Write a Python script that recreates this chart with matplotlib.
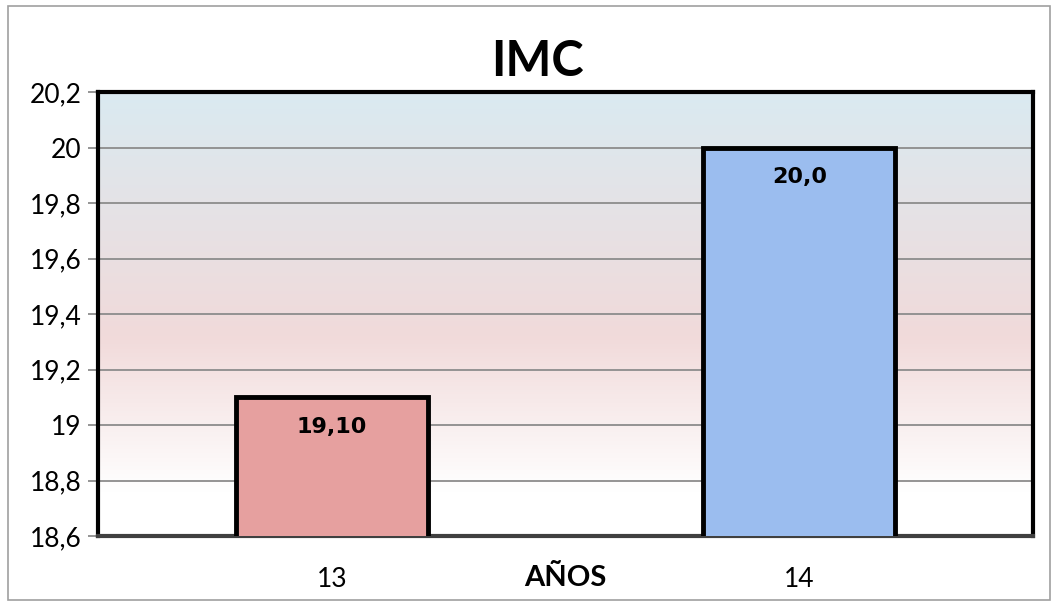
import numpy as np
import matplotlib.pyplot as plt
from matplotlib.patches import Rectangle

categorias = ['13', '14']
valores = [19.10, 20.0]
etiquetas = ['19,10', '20,0']
colores = ['#e6a09f', '#9bbdef']
yticks = [18.6, 18.8, 19.0, 19.2, 19.4, 19.6, 19.8, 20.0, 20.2]
ytick_labels = ['18,6', '18,8', '19', '19,2', '19,4', '19,6', '19,8', '20', '20,2']

plt.rcParams['font.family'] = ['Lato', 'DejaVu Sans']

fig = plt.figure(figsize=(10.57, 6.04), dpi=100)
# marco exterior gris
fig.patches.append(Rectangle((8 / 1057, 1 - 600 / 604), 1042 / 1057, 594 / 604,
                             transform=fig.transFigure, fill=False,
                             edgecolor='#a0a0a0', lw=1.2))

ax = fig.add_axes([98 / 1057, 1 - 536 / 604, (1033 - 98) / 1057, (536 - 92) / 604])

# fondo degradado: azul claro arriba, rosado en medio, blanco abajo
grad = np.linspace(0, 1, 256)
top = np.array([0.855, 0.918, 0.945])
mid = np.array([0.945, 0.855, 0.855])
bot = np.array([1.0, 1.0, 1.0])
rgb = np.zeros((256, 1, 3))
for i, t in enumerate(grad):
    if t < 0.55:
        c = top + (mid - top) * (t / 0.55)
    else:
        c = mid + (bot - mid) * min(1.0, (t - 0.55) / 0.35)
    rgb[i, 0] = c
ax.imshow(rgb, aspect='auto', extent=(-0.5, 1.5, 18.6, 20.2), zorder=0)
ax.set_xlim(-0.5, 1.5)
ax.set_ylim(18.6, 20.2)

ax.set_yticks(yticks)
ax.set_yticklabels(ytick_labels, fontsize=19)
ax.grid(axis='y', color='#8c8c8c', lw=1.3, zorder=1)
ax.tick_params(axis='y', length=7, width=1.3, color='#8c8c8c', pad=5)
ax.tick_params(axis='x', length=0, pad=22)

x = np.arange(len(categorias))
bars = ax.bar(x, valores, width=0.41, bottom=0, color=colores,
              edgecolor='black', lw=3.5, zorder=3)
ax.set_xticks(x)
ax.set_xticklabels(categorias, fontsize=19)

for xi, v, lab in zip(x, valores, etiquetas):
    ax.text(xi, v - 0.07, lab, ha='center', va='top', fontsize=16,
            fontweight='bold', family='DejaVu Sans', zorder=4)

for s in ['top', 'right', 'left']:
    ax.spines[s].set_linewidth(3)
    ax.spines[s].set_color('black')
ax.spines['bottom'].set_linewidth(3)
ax.spines['bottom'].set_color('#404040')

ax.set_xlabel('AÑOS', fontsize=21, fontweight='bold')
ax.xaxis.set_label_coords(0.5, -0.065)
fig.text(537 / 1057, 1 - 62 / 604, 'IMC', ha='center', va='center',
         fontsize=35, fontweight='bold')

fig.savefig('out.png', dpi=100)
